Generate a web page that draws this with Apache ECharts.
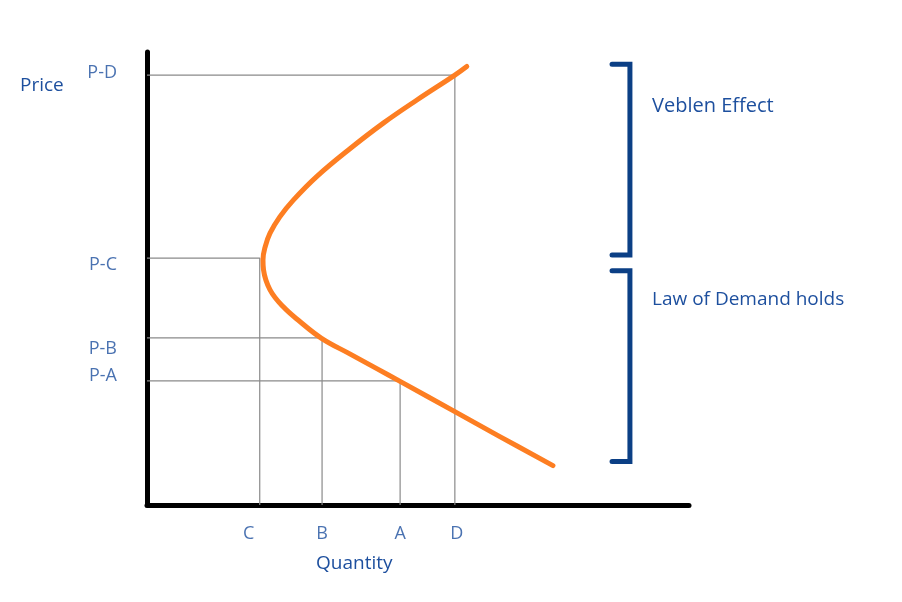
<!DOCTYPE html>
<html>
<head>
<meta charset="utf-8">
<script src="https://cdn.jsdelivr.net/npm/echarts@6/dist/echarts.min.js"></script>
<style>html,body{margin:0;padding:0;background:#fff;}#c{width:902px;height:602px;}</style>
</head>
<body>
<div id="c"></div>
<script>
// Demand curve (Quantity, Price) from upper end to lower end
const curveQ = [59.0, 56.8, 49.8, 43.6, 37.5, 31.3, 27.0, 24.5, 22.7, 21.8, 21.4, 21.5, 22.7, 25.1, 28.2, 32.2, 37.5, 42.4, 46.7, 56.8, 65.1, 74.9];
const curveP = [96.8, 94.9, 89.4, 84.3, 78.7, 72.5, 67.3, 63.6, 60.0, 57.0, 54.1, 51.9, 47.5, 43.8, 40.5, 36.8, 33.3, 30.1, 27.3, 20.6, 15.1, 8.7];

// Marked points on the curve
const pointNames = ['C', 'B', 'A', 'D'];
const pointQ = [20.8, 32.3, 46.7, 56.8];
const pointP = [54.5, 36.9, 27.4, 94.9];
const priceLabels = ['P-C', 'P-B', 'P-A', 'P-D'];

// Bracket ranges (price)
const bracketNames = ['Veblen Effect', 'Law of Demand holds'];
const bracketTop = [97.3, 51.7];
const bracketBottom = [55.2, 9.6];

const FONT = 'Open Sans';
const FS = 19;
const TXT = '#1d4f9e';
const BR = '#0b3f85';

const chart = echarts.init(document.getElementById('c'), null, {renderer: 'canvas'});

const series = [];
// drop lines
pointQ.forEach((q, i) => {
  series.push({
    type: 'line', data: [[0, pointP[i]], [q, pointP[i]], [q, 0]],
    symbol: 'none', silent: true, z: 1,
    lineStyle: {color: '#8a8a8a', width: 1.2}
  });
});
// curve
series.push({
  type: 'line', data: curveQ.map((q, i) => [q, curveP[i]]),
  smooth: 0.4, symbol: 'none', z: 5,
  lineStyle: {color: '#fd7e22', width: 5, cap: 'round', join: 'round'}
});
// brackets
const bq0 = 85.8, bq1 = 89.1;
bracketNames.forEach((n, i) => {
  series.push({
    type: 'line', data: [[bq0, bracketTop[i]], [bq1, bracketTop[i]], [bq1, bracketBottom[i]], [bq0, bracketBottom[i]]],
    symbol: 'none', z: 4,
    lineStyle: {color: BR, width: 5, cap: 'round', join: 'miter'}
  });
});
// x labels
const xOffsets = {C: -11, B: 0, A: 0, D: 2};
series.push({
  type: 'scatter', symbolSize: 0, z: 6,
  data: pointNames.map((n, i) => ({
    value: [pointQ[i], 0], name: n,
    label: {offset: [xOffsets[n], 0]}
  })),
  label: {show: true, position: 'bottom', distance: 20, formatter: '{b}', color: TXT, fontFamily: FONT, fontSize: FS - 1}
});
// y labels
const yOffsets = {'P-C': 7, 'P-B': 11, 'P-A': -5, 'P-D': -2};
series.push({
  type: 'scatter', symbolSize: 0, z: 6,
  data: priceLabels.map((n, i) => ({
    value: [0, pointP[i]], name: n,
    label: {offset: [0, yOffsets[n]]}
  })),
  label: {show: true, position: 'left', distance: 30, formatter: '{b}', color: TXT, fontFamily: FONT, fontSize: FS - 1}
});

function txt(t, x, y, fs) {
  return {type: 'text', x: x, y: y, style: {text: t, fill: TXT, font: (fs || FS) + 'px "' + FONT + '"', verticalAlign: 'middle', align: 'left'}};
}

const option = {
  animation: false,
  backgroundColor: '#fff',
  grid: {left: 147, right: 213, top: 52, bottom: 97},
  xAxis: {
    type: 'value', min: 0, max: 100,
    axisLine: {show: true, onZero: false, lineStyle: {color: '#000', width: 5, cap: 'round'}},
    axisTick: {show: false}, axisLabel: {show: false}, splitLine: {show: false}
  },
  yAxis: {
    type: 'value', min: 0, max: 100,
    axisLine: {show: true, onZero: false, lineStyle: {color: '#000', width: 5, cap: 'round'}},
    axisTick: {show: false}, axisLabel: {show: false}, splitLine: {show: false}
  },
  series: series,
  graphic: [
    txt('Price', 20, 86),
    txt('Quantity', 316, 564),
    txt(bracketNames[0], 652, 106, 20),
    txt(bracketNames[1], 652, 300)
  ]
};
chart.setOption(option);
</script>
</body>
</html>
